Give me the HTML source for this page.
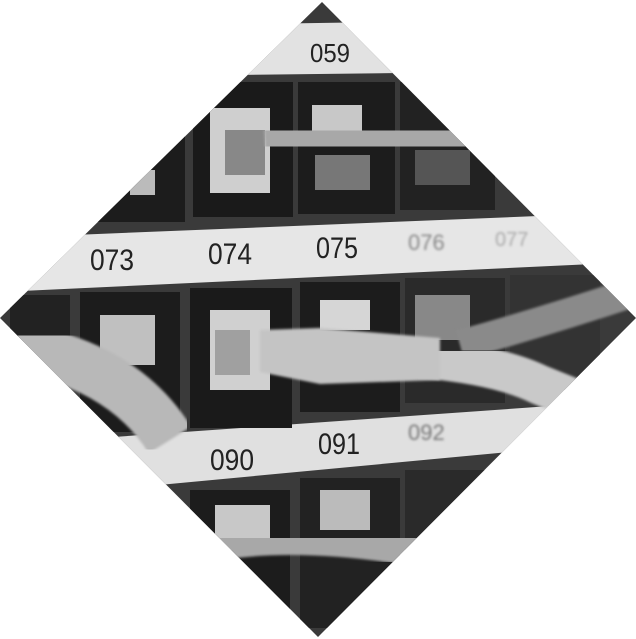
<!DOCTYPE html>
<html><head><meta charset="utf-8"><style>
html,body{margin:0;padding:0;background:#fff;width:636px;height:639px;overflow:hidden}
svg{display:block}
text{font-family:"Liberation Sans",sans-serif;fill:#222}
</style></head><body>
<svg width="636" height="639" viewBox="0 0 636 639">
<defs>
<clipPath id="dia"><polygon points="322,2 636,318 318,637 0,318"/></clipPath>
<filter id="blur"><feGaussianBlur stdDeviation="1.2"/></filter>
</defs>
<g clip-path="url(#dia)">
<rect x="0" y="0" width="636" height="639" fill="#3a3a3a"/>
<polygon points="0,28 636,18 636,70 0,78" fill="#e2e2e2"/>
<polygon points="0,238 636,212 636,262 0,292" fill="#e6e6e6"/>
<polygon points="0,445 636,400 636,440 0,500" fill="#e0e0e0"/>
<g>
<rect x="90" y="82" width="95" height="140" fill="#1c1c1c"/>
<rect x="193" y="82" width="100" height="135" fill="#1a1a1a"/>
<rect x="298" y="82" width="97" height="132" fill="#1c1c1c"/>
<rect x="400" y="82" width="95" height="128" fill="#222"/>
<rect x="130" y="170" width="25" height="25" fill="#bbb"/>
<rect x="312" y="105" width="50" height="30" fill="#c8c8c8"/>
<rect x="315" y="155" width="55" height="35" fill="#777"/>
<rect x="415" y="150" width="55" height="35" fill="#555"/>
<rect x="210" y="108" width="60" height="85" fill="#cfcfcf"/>
<rect x="225" y="130" width="40" height="45" fill="#888"/>
</g>
<path d="M265,145 L480,132" stroke="#a8a8a8" stroke-width="40" fill="none" filter="url(#blur)"/>
<g>
<rect x="10" y="295" width="60" height="130" fill="#222"/>
<rect x="80" y="292" width="100" height="140" fill="#1c1c1c"/>
<rect x="190" y="288" width="102" height="140" fill="#1a1a1a"/>
<rect x="300" y="282" width="100" height="130" fill="#1c1c1c"/>
<rect x="405" y="278" width="100" height="125" fill="#2a2a2a"/>
<rect x="510" y="275" width="90" height="115" fill="#333"/>
<rect x="100" y="315" width="55" height="50" fill="#c0c0c0"/>
<rect x="210" y="310" width="60" height="80" fill="#d0d0d0"/>
<rect x="320" y="300" width="50" height="30" fill="#d6d6d6"/>
<rect x="415" y="295" width="55" height="45" fill="#888"/>
</g>
<path d="M460,345 Q550,320 640,290" stroke="#8a8a8a" stroke-width="30" fill="none" filter="url(#blur)"/>
<path d="M420,358 Q500,365 540,385 L640,425" stroke="#c9c9c9" stroke-width="40" fill="none" filter="url(#blur)"/>
<polygon points="260,330 320,328 440,338 440,380 320,384 260,372" fill="#c4c4c4" filter="url(#blur)"/>
<path d="M0,345 Q120,360 170,440" stroke="#b8b8b8" stroke-width="50" fill="none" filter="url(#blur)"/>
<rect x="215" y="330" width="35" height="45" fill="#a0a0a0"/>
<g>
<rect x="190" y="490" width="100" height="150" fill="#1c1c1c"/>
<rect x="300" y="478" width="100" height="150" fill="#222"/>
<rect x="405" y="470" width="100" height="140" fill="#2a2a2a"/>
<rect x="215" y="505" width="55" height="45" fill="#c8c8c8"/>
<rect x="320" y="490" width="50" height="40" fill="#bbb"/>
</g>
<path d="M220,545 Q320,530 460,560" stroke="#a8a8a8" stroke-width="30" fill="none" filter="url(#blur)"/>
<text x="310" y="62" font-size="26" textLength="40" lengthAdjust="spacingAndGlyphs">059</text>
<text x="90" y="270" font-size="30" textLength="44" lengthAdjust="spacingAndGlyphs">073</text>
<text x="208" y="264" font-size="30" textLength="44" lengthAdjust="spacingAndGlyphs">074</text>
<text x="316" y="258" font-size="30" textLength="42" lengthAdjust="spacingAndGlyphs">075</text>
<text x="408" y="250" font-size="22" style="fill:#888" filter="url(#blur)">076</text>
<text x="495" y="246" font-size="20" style="fill:#aaa" filter="url(#blur)">077</text>
<text x="210" y="470" font-size="30" textLength="44" lengthAdjust="spacingAndGlyphs">090</text>
<text x="318" y="454" font-size="30" textLength="42" lengthAdjust="spacingAndGlyphs">091</text>
<text x="408" y="440" font-size="22" style="fill:#777" filter="url(#blur)">092</text>
</g>
</svg>
</body></html>
